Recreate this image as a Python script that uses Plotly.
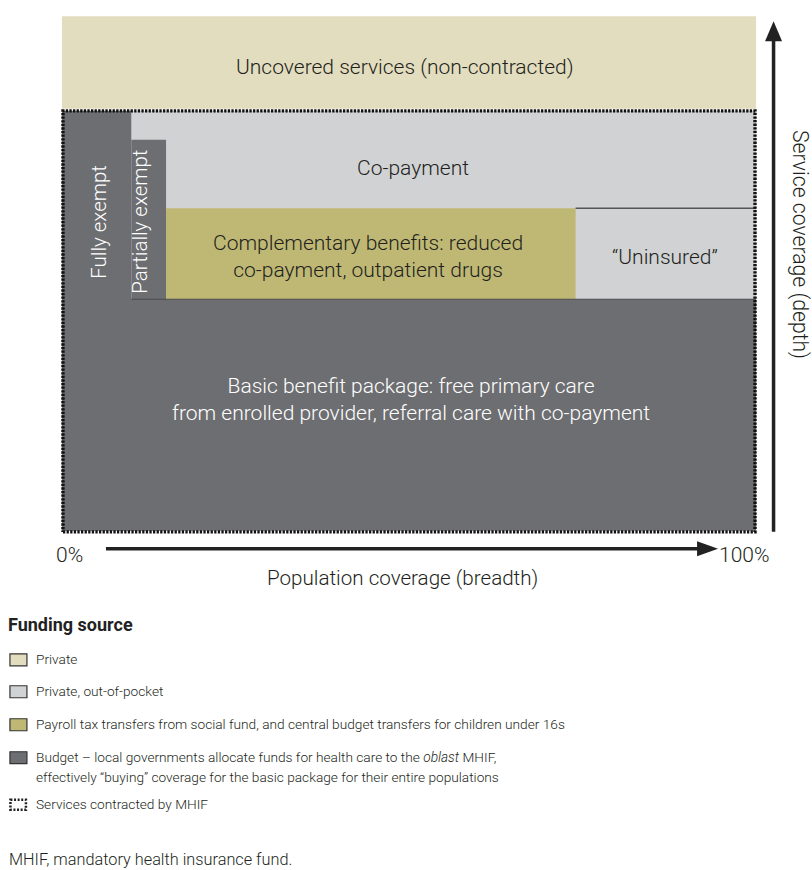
import plotly.graph_objects as go

# ---- data (population share %, service depth units 0-100) ----
pop_fully_exempt = 10
pop_partially_exempt = 15
pop_complementary = 74
pop_total = 100

depth_basic = 45
depth_complementary = 62.7
depth_partial = 76
depth_mhif = 81.6
depth_uncovered_bottom = 82
depth_uncovered_top = 100

block_names = ["Uncovered", "Co-payment", "Uninsured", "Complementary", "Basic", "Fully exempt", "Partially exempt"]
block_x0 = [0, pop_fully_exempt, pop_complementary, pop_partially_exempt, 0, 0, pop_fully_exempt]
block_x1 = [pop_total, pop_total, pop_total, pop_complementary, pop_total, pop_fully_exempt, pop_partially_exempt]
block_y0 = [depth_uncovered_bottom, depth_basic, depth_basic, depth_basic, 0, 0, 0]
block_y1 = [depth_uncovered_top, depth_mhif, depth_complementary, depth_complementary, depth_basic, depth_mhif, depth_partial]
block_fund = ["Private", "OOP", "OOP", "Payroll", "Budget", "Budget", "Budget"]

fund_colors = {"Private": "#E2DDBE", "OOP": "#D1D2D4", "Payroll": "#BFB874", "Budget": "#6D6E71"}

legend_title = "Funding source"
legend_labels = [
    "Private",
    "Private, out-of-pocket",
    "Payroll tax transfers from social fund, and central budget transfers for children under 16s",
    "Budget – local governments allocate funds for health care to the <i>oblast</i> MHIF,<br>effectively “buying” coverage for the basic package for their entire populations",
    "Services contracted by MHIF",
]
legend_keys = ["Private", "OOP", "Payroll", "Budget", "MHIF"]
footnote = "MHIF, mandatory health insurance fund."

FONT = "Roboto, DejaVu Sans Condensed, sans-serif"
WGT = 300
TXT = "#231f20"
BS = 21  # block label size

W, H = 812, 870
# pixel mapping: x 0->62, 100->756 ; y 0->531, 100->16
X0PX, X100PX = 62, 756
Y0PX, Y100PX = 531, 16
XR = [-1, 101]
YR = [-1, 101]
sx = (X100PX - X0PX) / 100
sy = (Y0PX - Y100PX) / 100
L = X0PX + XR[0] * sx
PW = (XR[1] - XR[0]) * sx
R = W - L - PW
T = Y100PX - (YR[1] - 100) * sy
PH = (YR[1] - YR[0]) * sy
B = H - T - PH


def px(x):
    return (x - L) / PW


def py(y):
    return (T + PH - y) / PH


fig = go.Figure()

for name, x0, x1, y0, y1, f in zip(block_names, block_x0, block_x1, block_y0, block_y1, block_fund):
    fig.add_trace(go.Scatter(
        x=[x0, x1, x1, x0, x0], y=[y0, y0, y1, y1, y0],
        mode="lines", fill="toself", fillcolor=fund_colors[f],
        line=dict(width=0), hoverinfo="skip", showlegend=False, name=name))

# boundary lines
fig.add_trace(go.Scatter(x=[pop_complementary, pop_total], y=[depth_complementary, depth_complementary],
                         mode="lines", line=dict(color="#555555", width=1.5), showlegend=False, hoverinfo="skip"))
fig.add_trace(go.Scatter(x=[pop_fully_exempt, pop_total], y=[depth_basic, depth_basic],
                         mode="lines", line=dict(color="#4a4a4c", width=1.2), showlegend=False, hoverinfo="skip"))

# dotted MHIF border
fig.add_trace(go.Scatter(x=[0.15, pop_total - 0.15, pop_total - 0.15, 0.15, 0.15],
                         y=[-0.2, -0.2, depth_mhif, depth_mhif, -0.2],
                         mode="lines", line=dict(color="#111111", width=3.4, dash="2.3px,1.3px"),
                         showlegend=False, hoverinfo="skip"))

ann = []


def A(text, x, y, size, color=TXT, xref="x", yref="y", xanchor="center", yanchor="middle", angle=0, align="center"):
    ann.append(dict(text=text, x=x, y=y, xref=xref, yref=yref, xanchor=xanchor, yanchor=yanchor,
                    showarrow=False, textangle=angle, align=align,
                    font=dict(family=FONT, size=size, color=color, weight=WGT)))


A("Uncovered services (non-contracted)", 49.4, 90.1, BS)
A("Co-payment", 50.6, 70.5, BS)
A("Complementary benefits: reduced<br>co-payment, outpatient drugs", 44.1, 53.4, BS)
A("“Uninsured”", 86.9, 53.3, BS)
A("Basic benefit package: free primary care<br>from enrolled provider, referral care with co-payment", 50.3,
  25.6, BS, color="white")
A("Fully exempt", 5.3, 60, 20.5, color="white", angle=-90)
A("Partially exempt", 11.2, 60, 20.5, color="white", angle=-90)

# axis labels
A("0%", px(70), py(555), 21, xref="paper", yref="paper")
A("100%", px(744), py(555), 21, xref="paper", yref="paper")
A("Population coverage (breadth)", px(403), py(578), 20.6, xref="paper", yref="paper")
A("Service coverage (depth)", px(800), py(244), 21.2, xref="paper", yref="paper", angle=90)

shapes = []
# horizontal arrow
shapes.append(dict(type="line", xref="paper", yref="paper", x0=px(106), x1=px(700), y0=py(549), y1=py(549),
                   line=dict(color="#222222", width=3.5)))
shapes.append(dict(type="path", xref="paper", yref="paper",
                   path=f"M {px(697)},{py(541.5)} L {px(718)},{py(549)} L {px(697)},{py(556.5)} Z",
                   fillcolor="#222222", line=dict(width=0)))
# vertical arrow
shapes.append(dict(type="line", xref="paper", yref="paper", x0=px(773.5), x1=px(773.5), y0=py(532), y1=py(38),
                   line=dict(color="#222222", width=3.5)))
shapes.append(dict(type="path", xref="paper", yref="paper",
                   path=f"M {px(765)},{py(41)} L {px(773.5)},{py(21)} L {px(782)},{py(41)} Z",
                   fillcolor="#222222", line=dict(width=0)))

# legend
ann.append(dict(text="<b>" + legend_title + "</b>", x=px(6), y=py(625), xref="paper", yref="paper",
                xanchor="left", yanchor="middle", showarrow=False,
                font=dict(family=FONT, size=18, color="#222222")))
legend_rows = [660, 692, 725, 758, 805]
LS = 13.7
for key, lab, yy in zip(legend_keys, legend_labels, legend_rows):
    if key == "MHIF":
        shapes.append(dict(type="rect", xref="paper", yref="paper", x0=px(10.5), x1=px(26), y0=py(800), y1=py(810),
                           line=dict(color="#222222", width=2.5, dash="2px,1.6px"), fillcolor="rgba(0,0,0,0)"))
    else:
        shapes.append(dict(type="rect", xref="paper", yref="paper", x0=px(10), x1=px(27), y0=py(yy - 6), y1=py(yy + 6),
                           line=dict(color="#333333", width=1.2), fillcolor=fund_colors[key]))
    lines = lab.split("<br>")
    for i, line_txt in enumerate(lines):
        ann.append(dict(text=line_txt, x=px(34), y=py(yy - 1 + 20 * i), xref="paper", yref="paper",
                        xanchor="left", yanchor="middle", showarrow=False, align="left",
                        font=dict(family=FONT, size=LS, color=TXT, weight=WGT)))

ann.append(dict(text=footnote, x=px(7), y=py(860), xref="paper", yref="paper",
                xanchor="left", yanchor="middle", showarrow=False,
                font=dict(family=FONT, size=16.3, color=TXT, weight=WGT)))

fig.update_layout(
    width=W, height=H, margin=dict(l=L, r=R, t=T, b=B, autoexpand=False),
    paper_bgcolor="white", plot_bgcolor="white",
    xaxis=dict(range=XR, visible=False, fixedrange=True),
    yaxis=dict(range=YR, visible=False, fixedrange=True),
    annotations=ann, shapes=shapes, showlegend=False,
)

fig.write_html("out.html", config={"displayModeBar": False},
               post_script="document.body.style.margin='0px';document.body.style.padding='0px';")
